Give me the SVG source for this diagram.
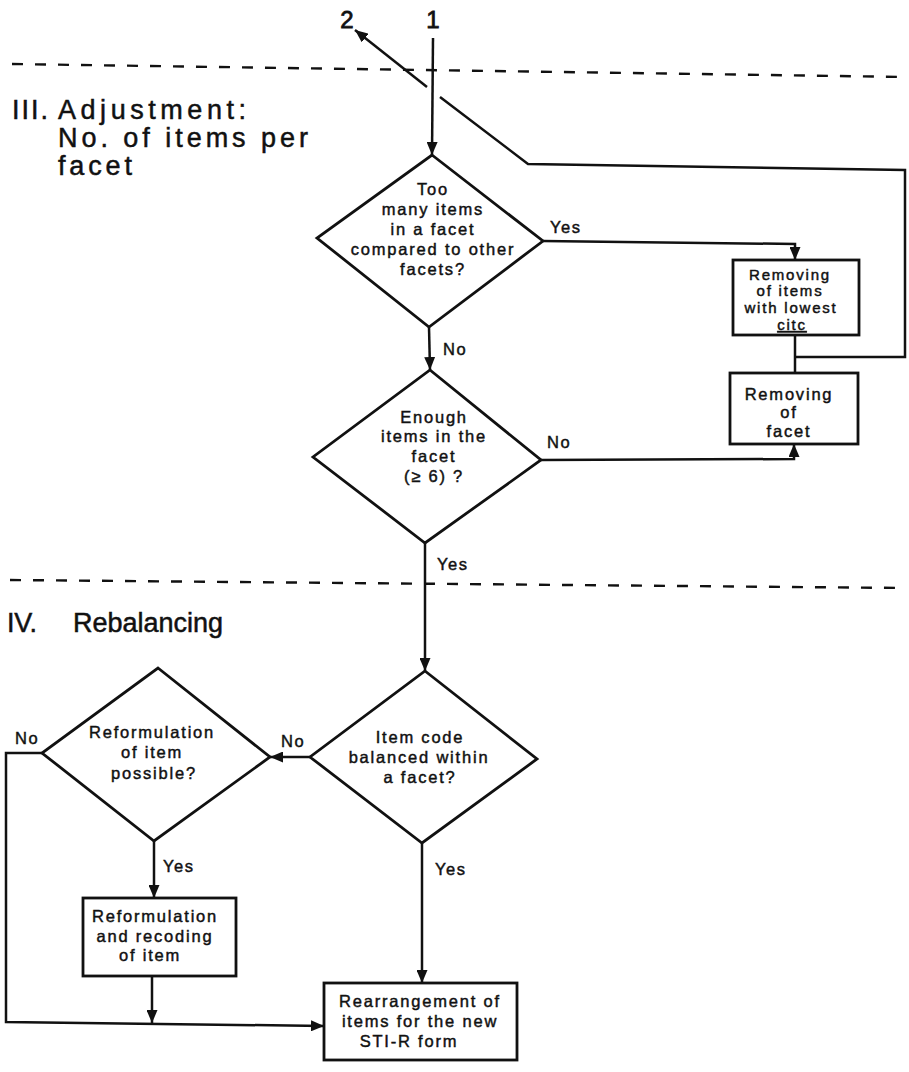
<svg xmlns="http://www.w3.org/2000/svg" width="909" height="1072" viewBox="0 0 909 1072">
<style>
  .bg{fill:#ffffff}
  .shape{fill:none;stroke:#111;stroke-width:2.8;stroke-linejoin:miter}
  .ln{fill:none;stroke:#111;stroke-width:2.5}
  .dash{fill:none;stroke:#111;stroke-width:2.4;stroke-dasharray:11 12}
  .t{font-family:"Liberation Sans",Arial,sans-serif;font-size:16.5px;fill:#111;stroke:#111;stroke-width:0.45;letter-spacing:1.8px;text-anchor:middle}
  .ts{font-family:"Liberation Sans",Arial,sans-serif;font-size:15px;fill:#111;stroke:#111;stroke-width:0.45;letter-spacing:1.8px;text-anchor:middle}
  .lbl{font-family:"Liberation Sans",Arial,sans-serif;font-size:16.5px;fill:#111;stroke:#111;stroke-width:0.45;letter-spacing:1.6px}
  .hd{font-family:"Liberation Sans",Arial,sans-serif;font-size:27px;fill:#111;stroke:#111;stroke-width:0.5}
  .num{font-family:"Liberation Sans",Arial,sans-serif;font-size:24px;fill:#111;stroke:#111;stroke-width:0.8;text-anchor:middle}
</style>
<defs>
  <marker id="ah" markerUnits="userSpaceOnUse" markerWidth="13" markerHeight="11" refX="13" refY="5.5" orient="auto">
    <path d="M0,0 L13,5.5 L0,11 z" fill="#111"/>
  </marker>
</defs>
<rect class="bg" x="0" y="0" width="909" height="1072"/>

<g id="section-lines">
  <line class="dash" x1="12" y1="64" x2="905" y2="77"/>
  <line class="dash" x1="10" y1="580" x2="905" y2="588"/>
</g>

<g id="headings">
  <text class="hd" x="12" y="119" textLength="36" lengthAdjust="spacing">III.</text>
  <text class="hd" x="58" y="119" textLength="188" lengthAdjust="spacing">Adjustment:</text>
  <text class="hd" x="58" y="147" textLength="250" lengthAdjust="spacing">No. of items per</text>
  <text class="hd" x="58" y="175" textLength="74" lengthAdjust="spacing">facet</text>
  <text class="hd" x="7" y="632" textLength="30" lengthAdjust="spacing">IV.</text>
  <text class="hd" x="73" y="632" textLength="150" lengthAdjust="spacing">Rebalancing</text>
</g>

<g id="connectors">
  <line class="ln" x1="433" y1="38" x2="432" y2="155" marker-end="url(#ah)"/>
  <polyline class="ln" points="795,357 905,357 905,170 528,164 440,97"/>
  <line class="ln" x1="427" y1="87" x2="355" y2="30" marker-end="url(#ah)"/>
  <line class="ln" x1="795" y1="335" x2="795" y2="373"/>
  <polyline class="ln" points="543,241 795,244 795,260" marker-end="url(#ah)"/>
  <line class="ln" x1="429" y1="327" x2="430" y2="370" marker-end="url(#ah)"/>
  <polyline class="ln" points="541,460 794,459 794,444" marker-end="url(#ah)"/>
  <line class="ln" x1="425" y1="543" x2="425" y2="671" marker-end="url(#ah)"/>
  <line class="ln" x1="310" y1="757" x2="270" y2="757" marker-end="url(#ah)"/>
  <polyline class="ln" points="42,753 6,753 6,1022 324,1026" marker-end="url(#ah)"/>
  <line class="ln" x1="154" y1="841" x2="154" y2="898" marker-end="url(#ah)"/>
  <line class="ln" x1="152" y1="976" x2="152" y2="1023" marker-end="url(#ah)"/>
  <line class="ln" x1="422" y1="843" x2="422" y2="983" marker-end="url(#ah)"/>

  <text class="num" x="347" y="28">2</text>
  <text class="num" x="433" y="28">1</text>
  <text class="lbl" x="550" y="233">Yes</text>
  <text class="lbl" x="443" y="355">No</text>
  <text class="lbl" x="547" y="448">No</text>
  <text class="lbl" x="437" y="570">Yes</text>
  <text class="lbl" x="15" y="744">No</text>
  <text class="lbl" x="281" y="747">No</text>
  <text class="lbl" x="163" y="872">Yes</text>
  <text class="lbl" x="435" y="875">Yes</text>
</g>

<g id="d1-too-many">
  <polygon class="shape" points="432,155 543,241 429,327 317,238"/>
  <text class="t" x="433" y="195">Too</text>
  <text class="t" x="433" y="215">many items</text>
  <text class="t" x="433" y="235">in a facet</text>
  <text class="t" x="433" y="255">compared to other</text>
  <text class="t" x="433" y="275">facets?</text>
</g>

<g id="b1-remove-items">
  <rect class="shape" x="733" y="260" width="126" height="75"/>
  <text class="ts" x="790" y="280">Removing</text>
  <text class="ts" x="790" y="296">of items</text>
  <text class="ts" x="791" y="313">with lowest</text>
  <text class="ts" x="792" y="330" text-decoration="underline">citc</text>
</g>

<g id="b2-remove-facet">
  <rect class="shape" x="730" y="373" width="128" height="71"/>
  <text class="t" x="789" y="400">Removing</text>
  <text class="t" x="789" y="418">of</text>
  <text class="t" x="789" y="437">facet</text>
</g>

<g id="d2-enough">
  <polygon class="shape" points="430,370 541,460 425,543 313,457"/>
  <text class="t" x="434" y="423">Enough</text>
  <text class="t" x="434" y="442">items in the</text>
  <text class="t" x="434" y="462">facet</text>
  <text class="t" x="434" y="482">(≥ 6) ?</text>
</g>

<g id="d4-balanced">
  <polygon class="shape" points="425,671 537,759 422,843 310,757"/>
  <text class="t" x="420" y="743">Item code</text>
  <text class="t" x="419" y="763">balanced within</text>
  <text class="t" x="420" y="783">a facet?</text>
</g>

<g id="d3-reformulation">
  <polygon class="shape" points="158,668 270,757 154,841 42,753"/>
  <text class="t" x="152" y="738">Reformulation</text>
  <text class="t" x="152" y="758">of item</text>
  <text class="t" x="154" y="779">possible?</text>
</g>

<g id="b3-reformulate">
  <rect class="shape" x="83" y="898" width="153" height="78"/>
  <text class="t" x="155" y="922">Reformulation</text>
  <text class="t" x="155" y="942">and recoding</text>
  <text class="t" x="150" y="961">of item</text>
</g>

<g id="b5-rearrange">
  <rect class="shape" x="324" y="983" width="193" height="77"/>
  <text class="t" x="420" y="1007">Rearrangement of</text>
  <text class="t" x="420" y="1027">items for the new</text>
  <text class="t" x="409" y="1047">STI-R form</text>
</g>
</svg>
